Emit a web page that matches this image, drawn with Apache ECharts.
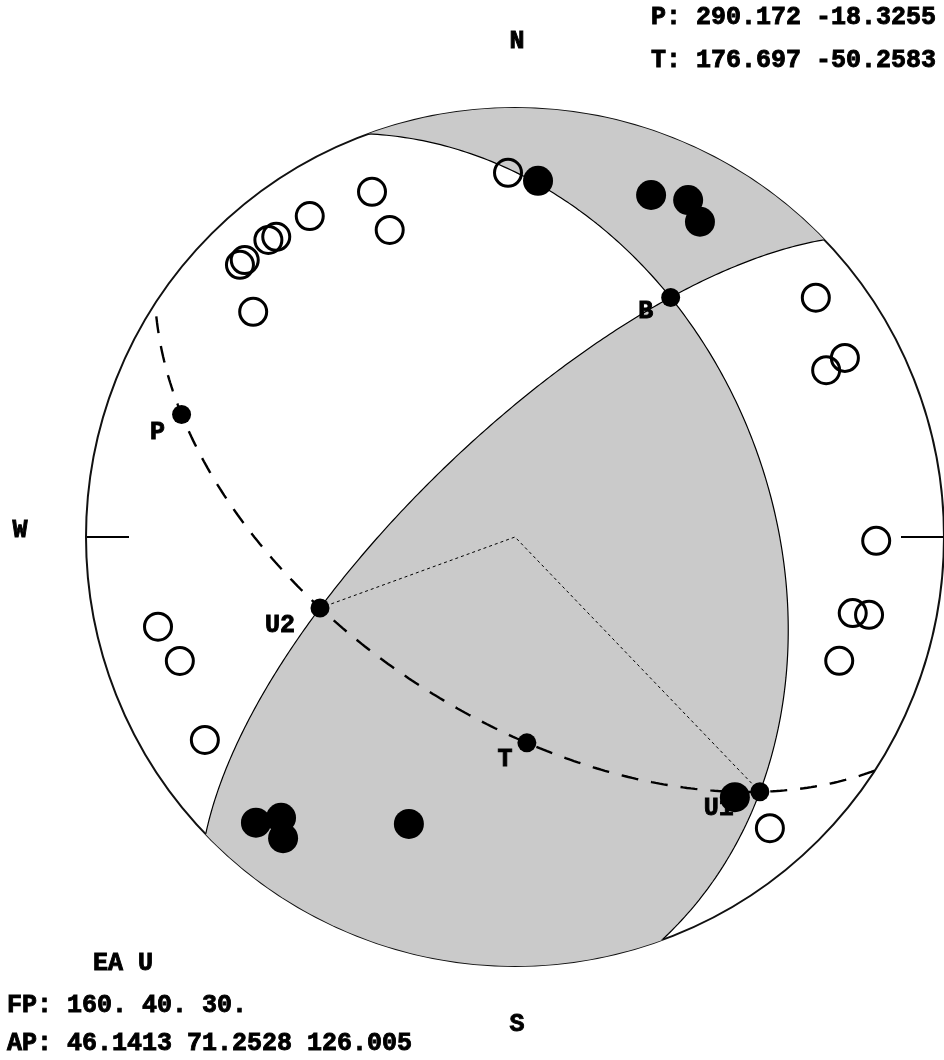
<!DOCTYPE html>
<html><head><meta charset="utf-8">
<script src="https://cdn.jsdelivr.net/npm/echarts@6/dist/echarts.min.js"></script>
<style>html,body{margin:0;padding:0;background:#fff}#c{width:944px;height:1060px}</style>
</head><body><div id="c"></div>
<script>
// ---- data ----
const planeStrike = [160, 46.1413];
const planeDip = [40, 71.2528];
const planeRake = [30, 126.005];
const axisNames = ['P', 'T', 'B', 'U1', 'U2'];
const axisTrend = [290.172, 176.697, 33.03, 136.1413, 250.0];
const axisPlunge = [-18.3255, -50.2583, -33.83, -18.7472, -50.0];
// stations (azimuth deg, normalized equal-area radius)
const openAz = [358.9, 337.5, 327.4, 337.8, 321.5, 320.3, 315.7, 314.7, 310.7, 51.5, 61.5, 61.8, 90.6, 102.7, 102.4, 110.9, 138.8, 255.9, 249.7, 236.8];
const openR  = [0.849, 0.871, 0.888, 0.773, 0.894, 0.900, 0.902, 0.902, 0.805, 0.896, 0.875, 0.823, 0.842, 0.807, 0.845, 0.809, 0.902, 0.858, 0.833, 0.864];
const fillAz = [3.7, 21.7, 27.2, 30.4, 222.2, 219.8, 217.6, 200.3, 139.8];
const fillR  = [0.832, 0.858, 0.883, 0.852, 0.899, 0.852, 0.886, 0.713, 0.794];
const headerLines = ['P: 290.172 -18.3255', 'T: 176.697 -50.2583'];
const footerLines = ['EA U', 'FP: 160. 40. 30.', 'AP: 46.1413 71.2528 126.005'];
const compassLabels = ['N', 'S', 'W'];

// ---- projection helpers (equal-area, upper hemisphere) ----
const D2R = Math.PI / 180;
function vecTP(tr, pl) { return [Math.cos(pl*D2R)*Math.cos(tr*D2R), Math.cos(pl*D2R)*Math.sin(tr*D2R), Math.sin(pl*D2R)]; }
function cross(a, b) { return [a[1]*b[2]-a[2]*b[1], a[2]*b[0]-a[0]*b[2], a[0]*b[1]-a[1]*b[0]]; }
function dot(a, b) { return a[0]*b[0]+a[1]*b[1]+a[2]*b[2]; }
function norm(a) { const l = Math.hypot(a[0], a[1], a[2]); return a.map(x => x / l); }
function neg(a) { return a.map(x => -x); }
function toPolarUp(u) {
  const r = Math.sqrt(Math.max(0, 1 - Math.abs(u[2])));
  let az = Math.atan2(u[1], u[0]) / D2R; if (az < 0) az += 360;
  return [r, az];
}
function planeBasis(strike, dip) {
  const s = [Math.cos(strike*D2R), Math.sin(strike*D2R), 0];
  const dd = (strike + 90) * D2R;
  const d = [Math.cos(dip*D2R)*Math.cos(dd), Math.cos(dip*D2R)*Math.sin(dd), Math.sin(dip*D2R)];
  return { s, d, n: norm(cross(s, d)) };
}
function basisFromNormal(n) {
  const s = norm([n[1], -n[0], 0]);
  let d = norm(cross(n, s)); if (d[2] < 0) d = neg(d);
  return { s, d, n };
}
function planePt(b, th) { const c = Math.cos(th*D2R), sn = Math.sin(th*D2R); return [c*b.s[0]+sn*b.d[0], c*b.s[1]+sn*b.d[1], c*b.s[2]+sn*b.d[2]]; }
function arc(b, t0, t1, n) { const out = []; for (let i = 0; i <= n; i++) out.push(toPolarUp(neg(planePt(b, t0 + (t1 - t0) * i / n)))); return out; }
function rim(a0, a1, n) { const out = []; for (let i = 0; i <= n; i++) out.push([1, a0 + (a1 - a0) * i / n]); return out; }

const b1 = planeBasis(planeStrike[0], planeDip[0]);
const b2 = planeBasis(planeStrike[1], planeDip[1]);
let vB = norm(cross(b1.n, b2.n)); if (vB[2] < 0) vB = neg(vB);
const thB1 = Math.atan2(dot(vB, b1.d), dot(vB, b1.s)) / D2R;
const thB2 = Math.atan2(dot(vB, b2.d), dot(vB, b2.s)) / D2R;

const regionA = [].concat(arc(b2, 0, thB2, 120), arc(b1, thB1, 180, 120), rim(planeStrike[0], planeStrike[1] + 180, 60));
const regionB = [].concat(arc(b1, 0, thB1, 120), arc(b2, thB2, 180, 120), rim(planeStrike[1], planeStrike[0] + 180 - 360, 60));

const axisPts = axisNames.map((nm, i) => toPolarUp(vecTP(axisTrend[i], axisPlunge[i])));
const vP = vecTP(axisTrend[0], axisPlunge[0]), vT = vecTP(axisTrend[1], axisPlunge[1]);
const bPT = basisFromNormal(norm(cross(vP, vT)));

const FONT = '"Liberation Mono", monospace';
const labelOffset = { P: [-24, 18], T: [-22, 17], B: [-25, 14], U1: [-41, 17], U2: [-40, 18] };

const chart = echarts.init(document.getElementById('c'));
const txt = (t, x, y, align) => ({ type: 'text', x, y, z: 100,
  style: { text: t, fill: '#000', stroke: '#000', lineWidth: 0.9, font: 'bold 25px ' + FONT, textAlign: align, textVerticalAlign: 'middle', align: align, verticalAlign: 'middle' } });

chart.setOption({
  animation: false,
  backgroundColor: '#fff',
  polar: { center: [515, 537], radius: 429 },
  angleAxis: {
    type: 'value', min: 0, max: 360, interval: 90, startAngle: 90, clockwise: true,
    axisLine: { show: true, lineStyle: { color: '#111', width: 2 } },
    axisTick: { show: true, inside: true, length: 43, lineStyle: { color: '#000', width: 2 } },
    axisLabel: { show: false }, splitLine: { show: false }
  },
  radiusAxis: { type: 'value', min: 0, max: 1, show: false, axisLine: { show: false }, axisTick: { show: false }, axisLabel: { show: false }, splitLine: { show: false } },
  series: [
    { type: 'custom', coordinateSystem: 'polar', z: 1, silent: true, data: [[0, 0]],
      renderItem: function (params, api) {
        return { type: 'group', children: [regionA, regionB].map(reg => ({
          type: 'polygon', shape: { points: reg.map(p => api.coord(p)) }, style: { fill: '#cacaca', stroke: null } })) };
      } },
    { type: 'line', coordinateSystem: 'polar', z: 2, symbol: 'none', silent: true, data: arc(b1, 0, 180, 240), lineStyle: { color: '#000', width: 1.2 } },
    { type: 'line', coordinateSystem: 'polar', z: 2, symbol: 'none', silent: true, data: arc(b2, 0, 180, 240), lineStyle: { color: '#000', width: 1.2 } },
    { type: 'line', coordinateSystem: 'polar', z: 2, symbol: 'none', silent: true, data: arc(bPT, 0, 180, 240), lineStyle: { color: '#000', width: 2.4, type: [17, 13] } },
    { type: 'line', coordinateSystem: 'polar', z: 2, symbol: 'none', silent: true, data: [axisPts[4], [0, 0], axisPts[3]], lineStyle: { color: '#000', width: 1, type: [3, 3] } },
    { type: 'scatter', coordinateSystem: 'polar', z: 3, symbol: 'circle', symbolSize: 19, silent: true, itemStyle: { color: '#000', opacity: 1 },
      data: axisNames.map((nm, i) => ({ name: nm, value: axisPts[i],
        label: { show: true, position: 'inside', offset: labelOffset[nm], formatter: nm, color: '#000', fontFamily: FONT, fontWeight: 'bold', fontSize: 25, textBorderColor: '#000', textBorderWidth: 0.9 } })) },
    { type: 'scatter', coordinateSystem: 'polar', z: 4, symbol: 'circle', symbolSize: 27, silent: true,
      itemStyle: { color: 'rgba(0,0,0,0)', borderColor: '#000', borderWidth: 3, opacity: 1 },
      data: openAz.map((a, i) => [openR[i], a]) },
    { type: 'scatter', coordinateSystem: 'polar', z: 4, symbol: 'circle', symbolSize: 30, silent: true, itemStyle: { color: '#000', opacity: 1 },
      data: fillAz.map((a, i) => [fillR[i], a]) }
  ],
  graphic: [
    txt(compassLabels[0], 517, 42, 'center'),
    txt(compassLabels[1], 517, 1025, 'center'),
    txt(compassLabels[2], 20, 531, 'center'),
    txt(headerLines[0], 651, 18, 'left'),
    txt(headerLines[1], 651, 61, 'left'),
    txt(footerLines[0], 93, 964, 'left'),
    txt(footerLines[1], 7, 1006, 'left'),
    txt(footerLines[2], 7, 1044, 'left')
  ]
});
</script></body></html>
